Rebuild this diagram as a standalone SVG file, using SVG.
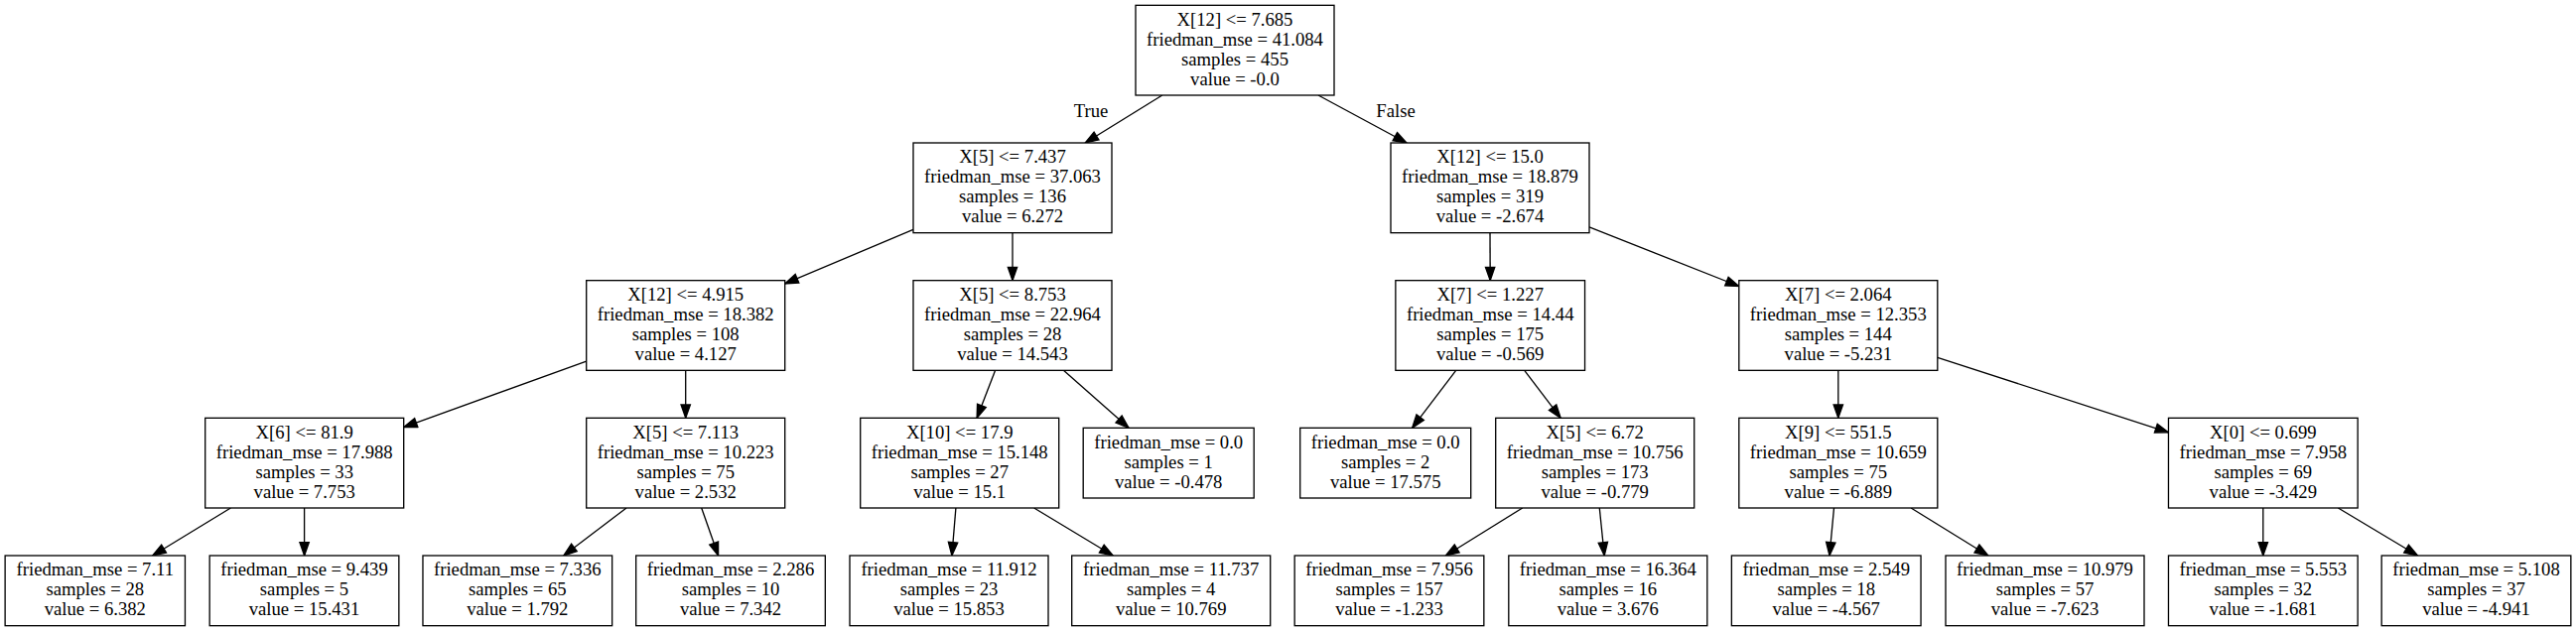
<svg xmlns="http://www.w3.org/2000/svg" width="2595" height="636" viewBox="0 0 2595 636">
<defs>
<style>
.n rect{fill:#fff;stroke:#000;stroke-width:1.33}
text{font-family:"Liberation Serif","Times New Roman",serif;font-size:18.67px;fill:#000;text-anchor:middle}
.e line{stroke:#000;stroke-width:1.33;marker-end:url(#arr)}
</style>
<marker id="arr" markerUnits="userSpaceOnUse" markerWidth="20" markerHeight="14" refX="13.33" refY="4.67" orient="auto" overflow="visible"><path d="M0,0 L13.33,4.67 L0,9.33 z" fill="#000" stroke="#000" stroke-width="1.33"/></marker>
</defs>
<rect width="2595" height="636" fill="#fff"/>
<g id="edges" class="e">
<line x1="1170.8" y1="96" x2="1093.2" y2="144"/>
<line x1="1328" y1="96" x2="1417" y2="144"/>
<line x1="920" y1="231.4" x2="790.7" y2="285.9"/>
<line x1="1020" y1="234.67" x2="1020" y2="282.67"/>
<line x1="1501" y1="234.67" x2="1501.2" y2="282.67"/>
<line x1="1601" y1="228.9" x2="1751.8" y2="288.5"/>
<line x1="590.7" y1="364.1" x2="406.7" y2="430.6"/>
<line x1="690.7" y1="373.33" x2="690.7" y2="421.33"/>
<line x1="1002.6" y1="373.33" x2="984.1" y2="421.33"/>
<line x1="1071.4" y1="373.33" x2="1137.1" y2="431.33"/>
<line x1="1466.7" y1="373.33" x2="1422.6" y2="431.33"/>
<line x1="1535.7" y1="373.33" x2="1572.2" y2="421.33"/>
<line x1="1851.8" y1="373.33" x2="1851.8" y2="421.33"/>
<line x1="1951.8" y1="360.4" x2="2184.5" y2="435.8"/>
<line x1="232.4" y1="512" x2="153.7" y2="560"/>
<line x1="306.6" y1="512" x2="306.6" y2="560"/>
<line x1="631" y1="512" x2="567.8" y2="560"/>
<line x1="706.7" y1="512" x2="723.6" y2="560"/>
<line x1="962.9" y1="512" x2="958.9" y2="560"/>
<line x1="1041.7" y1="512" x2="1121.2" y2="560"/>
<line x1="1533.7" y1="512" x2="1456.4" y2="560"/>
<line x1="1611.3" y1="512" x2="1616.2" y2="560"/>
<line x1="1847.5" y1="512" x2="1843" y2="560"/>
<line x1="1925.1" y1="512" x2="2002.8" y2="560"/>
<line x1="2279.8" y1="512" x2="2279.8" y2="560"/>
<line x1="2355.4" y1="512" x2="2435.5" y2="560"/>
<text x="1099" y="117.5">True</text>
<text x="1406" y="117.5">False</text>
</g>
<g id="node0" class="n"><rect x="1144" y="5.33" width="200" height="90.67"/><text x="1244" y="25.6"><tspan x="1244">X[12] &lt;= 7.685</tspan><tspan x="1244" dy="20">friedman_mse = 41.084</tspan><tspan x="1244" dy="20">samples = 455</tspan><tspan x="1244" dy="20">value = -0.0</tspan></text></g>
<g id="node1" class="n"><rect x="920" y="144" width="200" height="90.67"/><text x="1020" y="164.27"><tspan x="1020">X[5] &lt;= 7.437</tspan><tspan x="1020" dy="20">friedman_mse = 37.063</tspan><tspan x="1020" dy="20">samples = 136</tspan><tspan x="1020" dy="20">value = 6.272</tspan></text></g>
<g id="node2" class="n"><rect x="1401" y="144" width="200" height="90.67"/><text x="1501" y="164.27"><tspan x="1501">X[12] &lt;= 15.0</tspan><tspan x="1501" dy="20">friedman_mse = 18.879</tspan><tspan x="1501" dy="20">samples = 319</tspan><tspan x="1501" dy="20">value = -2.674</tspan></text></g>
<g id="node3" class="n"><rect x="590.7" y="282.67" width="200" height="90.67"/><text x="690.7" y="302.93"><tspan x="690.7">X[12] &lt;= 4.915</tspan><tspan x="690.7" dy="20">friedman_mse = 18.382</tspan><tspan x="690.7" dy="20">samples = 108</tspan><tspan x="690.7" dy="20">value = 4.127</tspan></text></g>
<g id="node4" class="n"><rect x="920" y="282.67" width="200" height="90.67"/><text x="1020" y="302.93"><tspan x="1020">X[5] &lt;= 8.753</tspan><tspan x="1020" dy="20">friedman_mse = 22.964</tspan><tspan x="1020" dy="20">samples = 28</tspan><tspan x="1020" dy="20">value = 14.543</tspan></text></g>
<g id="node5" class="n"><rect x="1405.87" y="282.67" width="190.67" height="90.67"/><text x="1501.2" y="302.93"><tspan x="1501.2">X[7] &lt;= 1.227</tspan><tspan x="1501.2" dy="20">friedman_mse = 14.44</tspan><tspan x="1501.2" dy="20">samples = 175</tspan><tspan x="1501.2" dy="20">value = -0.569</tspan></text></g>
<g id="node6" class="n"><rect x="1751.8" y="282.67" width="200" height="90.67"/><text x="1851.8" y="302.93"><tspan x="1851.8">X[7] &lt;= 2.064</tspan><tspan x="1851.8" dy="20">friedman_mse = 12.353</tspan><tspan x="1851.8" dy="20">samples = 144</tspan><tspan x="1851.8" dy="20">value = -5.231</tspan></text></g>
<g id="node7" class="n"><rect x="206.7" y="421.33" width="200" height="90.67"/><text x="306.7" y="441.6"><tspan x="306.7">X[6] &lt;= 81.9</tspan><tspan x="306.7" dy="20">friedman_mse = 17.988</tspan><tspan x="306.7" dy="20">samples = 33</tspan><tspan x="306.7" dy="20">value = 7.753</tspan></text></g>
<g id="node8" class="n"><rect x="590.7" y="421.33" width="200" height="90.67"/><text x="690.7" y="441.6"><tspan x="690.7">X[5] &lt;= 7.113</tspan><tspan x="690.7" dy="20">friedman_mse = 10.223</tspan><tspan x="690.7" dy="20">samples = 75</tspan><tspan x="690.7" dy="20">value = 2.532</tspan></text></g>
<g id="node9" class="n"><rect x="866.7" y="421.33" width="200" height="90.67"/><text x="966.7" y="441.6"><tspan x="966.7">X[10] &lt;= 17.9</tspan><tspan x="966.7" dy="20">friedman_mse = 15.148</tspan><tspan x="966.7" dy="20">samples = 27</tspan><tspan x="966.7" dy="20">value = 15.1</tspan></text></g>
<g id="node10" class="n"><rect x="1091.2" y="431.33" width="172" height="70.67"/><text x="1177.2" y="451.6"><tspan x="1177.2">friedman_mse = 0.0</tspan><tspan x="1177.2" dy="20">samples = 1</tspan><tspan x="1177.2" dy="20">value = -0.478</tspan></text></g>
<g id="node11" class="n"><rect x="1309.7" y="431.33" width="172" height="70.67"/><text x="1395.7" y="451.6"><tspan x="1395.7">friedman_mse = 0.0</tspan><tspan x="1395.7" dy="20">samples = 2</tspan><tspan x="1395.7" dy="20">value = 17.575</tspan></text></g>
<g id="node12" class="n"><rect x="1506.7" y="421.33" width="200" height="90.67"/><text x="1606.7" y="441.6"><tspan x="1606.7">X[5] &lt;= 6.72</tspan><tspan x="1606.7" dy="20">friedman_mse = 10.756</tspan><tspan x="1606.7" dy="20">samples = 173</tspan><tspan x="1606.7" dy="20">value = -0.779</tspan></text></g>
<g id="node13" class="n"><rect x="1751.8" y="421.33" width="200" height="90.67"/><text x="1851.8" y="441.6"><tspan x="1851.8">X[9] &lt;= 551.5</tspan><tspan x="1851.8" dy="20">friedman_mse = 10.659</tspan><tspan x="1851.8" dy="20">samples = 75</tspan><tspan x="1851.8" dy="20">value = -6.889</tspan></text></g>
<g id="node14" class="n"><rect x="2184.47" y="421.33" width="190.67" height="90.67"/><text x="2279.8" y="441.6"><tspan x="2279.8">X[0] &lt;= 0.699</tspan><tspan x="2279.8" dy="20">friedman_mse = 7.958</tspan><tspan x="2279.8" dy="20">samples = 69</tspan><tspan x="2279.8" dy="20">value = -3.429</tspan></text></g>
<g id="node15" class="n"><rect x="5.13" y="560" width="181.33" height="70.67"/><text x="95.8" y="580.27"><tspan x="95.8">friedman_mse = 7.11</tspan><tspan x="95.8" dy="20">samples = 28</tspan><tspan x="95.8" dy="20">value = 6.382</tspan></text></g>
<g id="node16" class="n"><rect x="211.17" y="560" width="190.67" height="70.67"/><text x="306.5" y="580.27"><tspan x="306.5">friedman_mse = 9.439</tspan><tspan x="306.5" dy="20">samples = 5</tspan><tspan x="306.5" dy="20">value = 15.431</tspan></text></g>
<g id="node17" class="n"><rect x="425.97" y="560" width="190.67" height="70.67"/><text x="521.3" y="580.27"><tspan x="521.3">friedman_mse = 7.336</tspan><tspan x="521.3" dy="20">samples = 65</tspan><tspan x="521.3" dy="20">value = 1.792</tspan></text></g>
<g id="node18" class="n"><rect x="640.67" y="560" width="190.67" height="70.67"/><text x="736" y="580.27"><tspan x="736">friedman_mse = 2.286</tspan><tspan x="736" dy="20">samples = 10</tspan><tspan x="736" dy="20">value = 7.342</tspan></text></g>
<g id="node19" class="n"><rect x="856" y="560" width="200" height="70.67"/><text x="956" y="580.27"><tspan x="956">friedman_mse = 11.912</tspan><tspan x="956" dy="20">samples = 23</tspan><tspan x="956" dy="20">value = 15.853</tspan></text></g>
<g id="node20" class="n"><rect x="1079.7" y="560" width="200" height="70.67"/><text x="1179.7" y="580.27"><tspan x="1179.7">friedman_mse = 11.737</tspan><tspan x="1179.7" dy="20">samples = 4</tspan><tspan x="1179.7" dy="20">value = 10.769</tspan></text></g>
<g id="node21" class="n"><rect x="1304.17" y="560" width="190.67" height="70.67"/><text x="1399.5" y="580.27"><tspan x="1399.5">friedman_mse = 7.956</tspan><tspan x="1399.5" dy="20">samples = 157</tspan><tspan x="1399.5" dy="20">value = -1.233</tspan></text></g>
<g id="node22" class="n"><rect x="1519.8" y="560" width="200" height="70.67"/><text x="1619.8" y="580.27"><tspan x="1619.8">friedman_mse = 16.364</tspan><tspan x="1619.8" dy="20">samples = 16</tspan><tspan x="1619.8" dy="20">value = 3.676</tspan></text></g>
<g id="node23" class="n"><rect x="1744.37" y="560" width="190.67" height="70.67"/><text x="1839.7" y="580.27"><tspan x="1839.7">friedman_mse = 2.549</tspan><tspan x="1839.7" dy="20">samples = 18</tspan><tspan x="1839.7" dy="20">value = -4.567</tspan></text></g>
<g id="node24" class="n"><rect x="1960" y="560" width="200" height="70.67"/><text x="2060" y="580.27"><tspan x="2060">friedman_mse = 10.979</tspan><tspan x="2060" dy="20">samples = 57</tspan><tspan x="2060" dy="20">value = -7.623</tspan></text></g>
<g id="node25" class="n"><rect x="2184.47" y="560" width="190.67" height="70.67"/><text x="2279.8" y="580.27"><tspan x="2279.8">friedman_mse = 5.553</tspan><tspan x="2279.8" dy="20">samples = 32</tspan><tspan x="2279.8" dy="20">value = -1.681</tspan></text></g>
<g id="node26" class="n"><rect x="2399.17" y="560" width="190.67" height="70.67"/><text x="2494.5" y="580.27"><tspan x="2494.5">friedman_mse = 5.108</tspan><tspan x="2494.5" dy="20">samples = 37</tspan><tspan x="2494.5" dy="20">value = -4.941</tspan></text></g>
</svg>
